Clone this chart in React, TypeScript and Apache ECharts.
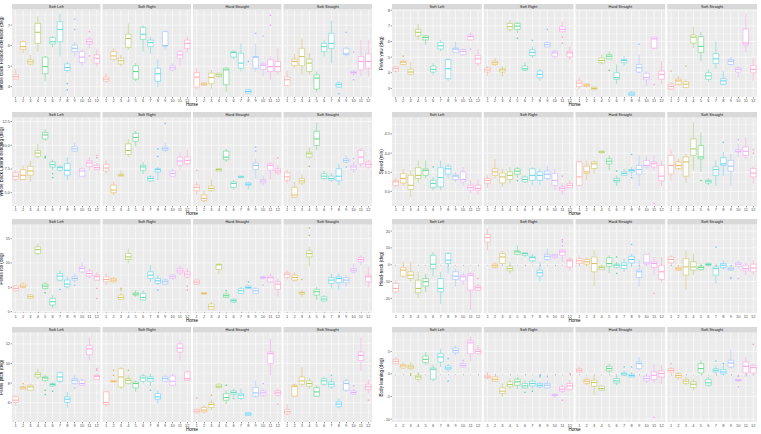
import React, { useEffect, useRef } from 'react';
import * as echarts from 'echarts';

// ---------- categories ----------
const horses = ['1', '2', '3', '4', '5', '6', '7', '8', '9', '10', '11', '12'];
const facets = ['Soft Left', 'Soft Right', 'Hard Straight', 'Soft Straight'];
const horseColors = ['#F8766D', '#DE8C00', '#B79F00', '#7CAE00', '#00BA38', '#00C08B', '#00BFC4', '#00B4F0', '#619CFF', '#C77CFF', '#F564E3', '#FF64B0'];

// ---------- y axis titles & ticks ----------
const yTitles = [
  'Whole Back Flexion-extension (deg)', 'Pelvis yaw (deg)',
  'Whole Back Lateral bending (deg)', 'Speed (m/s)',
  'Pelvis roll (deg)', 'Head-neck (deg)',
  'Pelvis pitch (deg)', 'Body leaning (deg)',
];
const yTicks = [
  [4, 5, 6, 7], [3, 4, 5, 6, 7, 8],
  [5, 7.5, 10, 12.5], [3, 3.5, 4, 4.5],
  [0, 5, 10, 15], [-20, -10, 0, 10, 20],
  [6, 8, 10, 12], [-10, -5, 0, 5],
];
const yTickDecimals = [0, 0, 1, 1, 0, 0, 0, 0];
const yRanges = [
  [3.5, 7.76], [2.45, 8.05],
  [3.6, 12.92], [2.62, 4.93],
  [-0.28, 17.9], [-28.7, 23.9],
  [4.05, 13.15], [-10.66, 9.19],
];

// ---------- box values per facet: [lower whisker, Q1, median, Q3, upper whisker] for horses 1..12 ----------
const flexionBoxes = [
  [[4.34,4.37,4.48,4.58,4.87],[5.63,5.82,5.95,6.19,6.27],[5.02,5.11,5.21,5.31,5.55],[5.71,6.11,6.65,7.08,7.44],[4.26,4.63,4.98,5.44,5.5],[5.92,6.08,6.19,6.4,6.47],[5.47,6.19,6.79,7.16,7.56],[4.69,4.79,4.94,5.11,5.23],[5.47,5.71,5.87,6.03,6.19],[4.98,5.18,5.44,5.71,5.82],[5.87,6.08,6.19,6.31,6.44],[4.98,5.15,5.39,5.55,5.82]],
  [[4.18,4.27,4.37,4.47,4.66],[5.27,5.34,5.5,5.71,5.87],[4.98,5.11,5.26,5.39,5.55],[5.79,5.92,6.35,6.56,7.08],[4.26,4.37,4.74,5.02,5.15],[5.71,6.31,6.56,6.89,7.0],[5.6,5.95,6.15,6.27,6.44],[3.98,4.26,4.63,4.9,5.34],[5.79,5.98,6.0,6.68,6.76],[4.74,4.82,4.92,5.02,5.15],[4.98,5.39,5.55,5.71,5.82],[5.66,5.87,6.11,6.27,6.47]],
  [[3.85,3.98,4.47,4.69,4.9],[4.05,4.08,4.13,4.18,4.23],[3.89,4.15,4.45,4.66,4.82],[4.42,4.5,4.58,4.66,4.66],[3.73,4.1,4.82,4.9,4.98],[5.34,5.44,5.66,5.71,5.79],[4.74,4.9,5.15,5.63,6.11],[3.65,3.69,3.77,3.85,3.89],[4.74,4.9,5.44,5.47,6.11],[4.5,4.85,5.05,5.11,5.23],[4.34,4.74,4.98,5.31,5.47],[4.58,4.74,4.98,5.23,5.87]],
  [[4.02,4.05,4.34,4.47,4.79],[4.9,5.02,5.23,5.34,5.6],[4.58,5.02,5.47,5.87,6.35],[4.58,4.74,5.15,5.34,5.63],[3.73,3.89,4.42,4.58,4.74],[5.47,5.71,5.95,6.11,6.27],[5.15,5.87,6.11,6.6,7.21],[3.94,3.98,4.1,4.18,4.26],[5.47,5.55,5.6,5.87,5.95],[4.5,4.63,4.69,4.74,4.82],[4.5,4.82,5.23,5.47,6.27],[4.5,4.9,5.23,5.6,6.27]],
];
const flexionOutliers = [
  [[8,4.15],[8,3.85],[9,7.29],[9,6.79],[11,6.68],[11,5.5]],
  [],
  [[8,5.23],[9,6.6],[10,6.47],[11,7.48],[11,7.0]],
  [[8,3.66],[9,6.65],[10,5.68],[10,4.34]],
];

const yawBoxes = [
  [[4.0,4.11,4.26,4.37,4.43],[4.43,4.53,4.68,4.74,4.85],[3.84,3.9,4.05,4.22,4.7],[6.11,6.36,6.59,6.78,7.12],[5.8,6.11,6.26,6.36,6.42],[3.84,4.05,4.22,4.43,4.64],[5.37,5.52,5.73,5.94,6.11],[3.48,3.63,4.26,4.85,4.95],[5.31,5.31,5.52,5.58,6.0],[5.1,5.16,5.37,5.48,5.58],[6.07,6.11,6.32,6.42,6.57],[4.43,4.6,4.89,5.1,5.52]],
  [[3.8,4.05,4.18,4.32,4.43],[4.43,4.53,4.64,4.74,4.95],[3.76,4.05,4.18,4.26,4.43],[6.63,6.78,6.95,7.16,7.37],[6.53,6.78,6.99,7.16,7.26],[4.11,4.18,4.26,4.43,4.68],[4.95,5.1,5.31,5.48,5.69],[3.48,3.69,3.9,4.11,4.26],[5.65,5.65,5.79,5.94,6.0],[4.9,5.06,5.27,5.37,5.48],[6.53,6.63,6.78,6.95,7.26],[4.85,5.02,5.27,5.37,5.69]],
  [[2.96,3.13,3.34,3.48,3.69],[3.06,3.13,3.21,3.27,3.34],[2.85,2.92,3.0,3.08,3.13],[4.53,4.64,4.79,4.95,5.16],[4.85,4.89,5.06,5.16,5.37],[3.27,3.59,3.69,4.0,4.53],[4.43,4.64,4.79,4.85,5.06],[2.5,2.54,2.64,2.75,2.85],[3.97,4.05,4.32,4.53,5.16],[3.13,3.55,3.69,3.97,4.11],[5.48,5.58,6.17,6.28,6.32],[3.27,3.59,3.9,4.11,4.74]],
  [[2.92,2.96,3.13,3.27,3.38],[3.17,3.27,3.48,3.59,3.8],[3.0,3.06,3.27,3.42,3.59],[5.58,5.9,6.28,6.42,6.95],[4.74,5.31,5.69,6.32,6.63],[3.42,3.59,3.8,4.0,4.22],[4.26,4.6,4.89,5.23,6.0],[3.21,3.27,3.48,3.63,4.11],[4.43,4.53,4.74,4.85,5.02],[3.69,4.05,4.22,4.32,4.43],[5.31,5.79,5.9,6.8,7.79],[3.48,4.0,4.22,4.47,4.95]],
];
const yawOutliers = [
  [[2,5.06],[11,5.52]],
  [[5,6.21],[7,6.07],[9,6.78],[11,6.28],[11,5.9]],
  [[5,4.16],[9,5.84],[11,3.25]],
  [[1,4.11],[3,4.43]],
];

const lateralBoxes = [
  [[6.15,6.39,6.74,7.09,7.36],[6.32,6.39,6.84,7.43,7.88],[6.15,6.84,7.29,7.78,8.34],[8.58,8.82,9.17,9.45,10.14],[10.49,10.66,11.08,11.35,11.7],[7.36,7.71,7.95,8.23,8.48],[7.19,7.36,7.64,7.78,7.88],[6.32,6.84,7.36,8.06,8.75],[9.27,9.38,9.62,9.86,10.31],[6.67,6.74,7.29,7.53,7.71],[7.36,7.78,8.13,8.34,8.75],[7.36,7.43,7.64,7.88,8.13]],
  [[7.01,7.29,7.6,7.99,8.41],[4.76,5.0,5.28,5.8,6.15],[6.74,6.74,6.84,6.94,7.36],[8.75,9.03,9.45,10.14,10.66],[9.86,10.42,10.83,11.25,11.53],[6.95,7.36,7.71,7.88,8.23],[6.15,6.25,6.5,6.67,6.84],[6.32,7.19,7.43,7.53,7.71],[9.27,9.45,9.62,9.79,10.31],[6.67,6.74,7.01,7.29,7.53],[7.36,7.88,8.34,8.75,9.27],[7.78,8.06,8.41,8.75,9.52]],
  [[4.76,5.21,5.56,5.8,6.15],[3.96,4.17,4.41,4.76,5.28],[5.11,5.21,5.45,5.7,6.39],[7.29,7.29,7.43,7.53,7.53],[8.23,8.47,8.75,9.38,9.62],[5.35,5.56,5.97,6.15,6.32],[6.5,6.6,6.67,6.74,6.8],[5.35,5.8,5.9,6.04,6.15],[6.5,7.43,7.88,8.13,8.58],[5.7,6.04,6.22,6.39,6.84],[6.39,7.36,7.88,8.06,8.23],[6.84,7.09,7.29,7.53,7.88]],
  [[5.97,6.32,6.67,7.09,7.43],[4.41,4.52,4.76,5.56,6.15],[5.8,6.04,6.25,6.5,6.94],[8.47,8.75,9.1,9.27,9.79],[9.45,9.97,10.66,11.46,12.4],[6.32,6.5,6.74,7.01,7.29],[6.15,6.32,6.5,6.74,7.09],[5.8,6.25,6.74,7.53,8.06],[8.06,8.23,8.41,8.58,8.93],[7.09,7.43,7.71,7.88,8.23],[7.64,8.06,8.75,9.45,9.72],[7.53,7.71,7.99,8.23,8.47]],
];
const lateralOutliers = [
  [[5,8.82],[5,8.68],[6,7.01],[6,6.6],[12,8.93],[12,8.68]],
  [[8,9.62],[8,8.82],[9,12.29]],
  [[1,7.36],[9,9.79],[9,9.38],[12,8.68]],
  [[4,7.78],[9,7.71],[10,8.58]],
];

const speedBoxes = [
  [[3.1,3.16,3.25,3.29,3.36],[3.14,3.22,3.34,3.47,3.59],[2.86,3.05,3.16,3.42,3.55],[3.22,3.34,3.42,3.62,3.81],[3.34,3.42,3.55,3.59,3.81],[3.03,3.1,3.21,3.29,3.38],[3.03,3.12,3.36,3.62,3.81],[3.34,3.45,3.59,3.66,3.72],[3.25,3.31,3.4,3.42,3.51],[3.14,3.25,3.31,3.51,3.64],[2.95,3.03,3.1,3.16,3.29],[2.91,3.03,3.08,3.16,3.31]],
  [[3.1,3.21,3.29,3.34,3.42],[3.34,3.42,3.51,3.59,3.85],[3.12,3.22,3.38,3.48,3.59],[3.21,3.31,3.42,3.51,3.64],[3.36,3.45,3.53,3.59,3.64],[3.22,3.25,3.31,3.38,3.42],[3.16,3.29,3.42,3.59,3.64],[3.16,3.29,3.42,3.51,3.59],[3.29,3.34,3.45,3.53,3.66],[3.03,3.16,3.29,3.47,3.59],[2.91,3.02,3.08,3.12,3.21],[3.08,3.1,3.16,3.21,3.29]],
  [[3.16,3.16,3.38,3.77,3.81],[3.29,3.47,3.51,3.66,3.81],[3.45,3.6,3.72,3.77,3.81],[4.0,4.01,4.03,4.05,4.07],[3.55,3.72,3.79,3.85,3.94],[3.14,3.25,3.29,3.34,3.42],[3.4,3.42,3.47,3.51,3.59],[3.4,3.51,3.55,3.57,3.64],[3.14,3.45,3.57,3.68,3.94],[3.59,3.64,3.68,3.81,3.94],[3.55,3.64,3.72,3.77,3.94],[3.14,3.28,3.4,3.68,3.81]],
  [[3.28,3.45,3.68,3.94,4.09],[3.55,3.6,3.68,3.77,3.85],[3.22,3.4,3.77,3.9,3.98],[3.55,3.94,4.11,4.37,4.8],[3.51,3.85,3.9,4.2,4.54],[3.16,3.22,3.27,3.29,3.34],[3.14,3.42,3.57,3.64,3.81],[3.4,3.68,3.72,3.88,4.03],[3.14,3.53,3.66,3.81,3.98],[3.9,4.03,4.05,4.09,4.24],[3.85,3.94,4.05,4.16,4.41],[3.21,3.38,3.48,3.6,3.66]],
];
const speedOutliers = [
  [[6,3.64]],
  [[5,3.28],[11,3.4]],
  [[6,3.53],[8,3.97],[8,3.36],[11,2.69]],
  [[5,3.28],[8,4.28],[10,4.35],[12,4.09],[12,4.0]],
];

const rollBoxes = [
  [[4.09,4.29,4.77,5.25,5.45],[4.77,4.97,5.25,5.66,6.13],[2.52,2.72,3.07,3.41,3.61],[11.59,11.93,12.75,13.3,13.98],[4.43,4.77,5.25,5.66,6.13],[0.68,1.36,2.04,2.72,3.41],[6.13,6.48,7.29,7.84,8.52],[4.77,5.11,5.66,6.48,7.29],[5.93,6.48,6.82,7.16,7.84],[7.84,8.18,8.86,9.2,10.23],[6.82,7.29,7.84,8.32,8.86],[6.34,6.48,7.16,7.5,8.18]],
  [[5.45,6.13,6.61,7.16,7.84],[5.93,6.13,6.48,6.82,7.16],[2.38,2.52,2.93,3.41,3.9],[9.88,10.7,11.25,11.93,12.95],[3.07,3.41,3.61,3.88,4.43],[2.25,2.38,2.93,3.75,4.43],[6.13,6.82,7.5,8.18,9.54],[5.45,5.8,6.34,6.82,7.5],[5.45,5.66,6.13,6.48,6.82],[6.48,6.82,7.16,7.5,7.7],[7.5,7.98,8.38,8.86,9.54],[6.82,7.16,7.7,8.18,8.86]],
  [[5.45,5.66,6.07,6.48,6.61],[3.48,3.61,3.75,3.88,4.02],[0.34,0.48,1.02,1.57,2.04],[7.7,8.66,9.61,9.75,9.88],[2.72,2.93,3.27,3.61,3.88],[1.84,1.98,2.25,2.52,2.72],[3.61,3.75,4.29,4.77,5.11],[4.57,4.77,4.97,5.25,5.45],[3.61,3.75,4.29,4.77,4.97],[6.48,6.82,7.02,7.16,7.5],[5.8,6.13,6.95,7.29,7.84],[3.07,4.57,5.66,6.13,6.82]],
  [[6.61,7.02,7.7,7.98,8.52],[6.13,6.48,7.02,7.5,8.18],[2.93,3.61,3.88,4.02,4.43],[9.34,11.25,11.93,12.48,13.3],[2.38,3.41,4.09,4.57,5.11],[2.04,2.18,2.59,3.07,3.41],[4.77,5.8,6.48,7.02,7.84],[4.43,5.93,6.82,7.16,7.84],[5.11,5.93,6.48,6.95,7.5],[7.84,8.18,8.52,8.86,9.88],[9.54,10.23,10.7,11.11,11.59],[4.97,6.13,7.16,7.5,9.2]],
];
const rollOutliers = [
  [[5,3.88],[7,4.57],[9,5.45],[12,4.77],[12,2.72]],
  [[3,4.77],[3,4.43],[8,4.43],[12,5.25],[12,4.43]],
  [[5,4.29],[8,6.13],[10,5.45]],
  [[3,6.61],[4,17.2],[4,15.68]],
];

const headNeckBoxes = [
  [[-17.0,-16.1,-14.1,-11.1,-9.2],[-7.6,-6.8,-3.2,-1.7,1.7],[-10.1,-8.2,-6.2,-4.2,1.7],[-20.0,-16.7,-14.1,-9.2,-4.2],[-16.1,-12.7,-10.1,-8.2,-5.2],[-7.2,-2.3,0.3,5.6,7.6],[-23.3,-16.1,-14.1,-8.2,-4.2],[-5.2,0.7,2.7,6.6,7.6],[-13.1,-8.8,-6.8,-4.2,-2.3],[-12.1,-9.6,-7.2,-6.2,-4.2],[-26.9,-15.1,-6.2,-5.2,-4.2],[-15.5,-15.1,-13.7,-12.7,-11.5]],
  [[8.6,13.5,16.1,18.0,21.4],[-2.3,-1.7,-0.7,0.3,1.7],[-0.3,0.7,4.6,6.6,8.2],[-5.6,-3.6,-2.3,-0.9,1.7],[5.6,6.2,7.6,8.2,11.5],[4.6,5.6,6.6,7.0,7.6],[1.1,2.3,4.2,5.0,6.6],[-10.1,-6.8,-4.8,-3.2,1.7],[2.3,3.1,5.0,6.2,9.6],[3.1,4.2,5.2,6.0,6.6],[1.7,5.6,7.6,8.6,9.6],[-3.6,-1.3,2.3,3.1,4.6]],
  [[-0.3,0.7,2.3,3.6,5.6],[-0.9,0.3,1.7,3.1,4.6],[-12.7,-4.2,0.7,4.6,8.6],[-3.2,-2.9,-1.7,-0.9,-0.3],[-5.2,-0.9,0.7,4.2,5.6],[-2.3,-1.5,-0.3,0.3,1.7],[-4.2,-2.3,-0.3,1.1,3.6],[-1.5,1.1,3.1,5.0,6.6],[-13.1,-7.6,-4.2,-3.2,3.1],[-0.3,0.3,1.1,6.2,6.6],[-6.2,-1.7,0.7,1.7,4.6],[-10.7,-8.8,-4.2,-0.3,4.6]],
  [[-0.3,1.1,3.1,4.6,5.6],[-3.6,-3.2,-2.5,-1.7,-0.3],[-15.1,-6.2,-1.3,3.6,8.6],[-6.2,-3.2,-1.3,1.7,6.6],[-3.6,-2.9,-1.7,-0.9,0.7],[-0.9,-0.5,0.1,0.7,1.5],[-11.1,-6.2,-2.3,-1.3,0.7],[-2.9,-1.7,-0.3,0.7,2.7],[-3.6,-3.2,-2.5,-1.7,-0.3],[-2.3,-0.9,0.3,1.1,2.7],[-6.2,-3.6,-2.3,-0.3,1.1],[-6.2,-4.2,-1.9,0.3,2.7]],
];
const headNeckOutliers = [
  [[12,-8.2]],
  [[11,14.9],[11,13.5],[11,11.2]],
  [[6,4.6],[6,-5.2],[8,12.1],[11,-17.0]],
  [[7,10.5],[9,-7.6],[9,-8.2],[10,-8.2]],
];

const pitchBoxes = [
  [[5.7,6.04,6.27,6.61,6.78],[7.38,7.38,7.52,7.62,7.79],[7.18,7.28,7.62,7.79,7.96],[8.39,8.63,8.87,9.07,9.47],[8.12,8.29,8.53,8.63,8.87],[7.62,7.72,7.86,7.96,8.12],[7.96,8.19,8.63,9.07,9.2],[5.5,6.04,6.37,6.61,7.11],[7.79,7.96,8.29,8.46,8.87],[7.72,7.79,7.96,8.29,8.46],[10.31,10.89,11.49,11.83,12.67],[8.39,8.39,8.7,8.8,8.97]],
  [[5.6,5.83,6.04,7.11,7.18],[8.12,8.12,8.19,8.29,8.29],[7.38,7.62,8.63,9.47,9.64],[7.86,7.96,8.29,8.46,8.8],[7.11,7.52,7.96,8.12,8.29],[7.96,8.19,8.53,8.73,8.97],[7.72,8.19,8.46,8.63,8.97],[5.93,6.37,6.61,6.94,7.28],[8.12,8.19,8.46,8.63,8.87],[7.72,7.79,8.19,8.73,8.97],[10.31,11.16,11.56,12.0,12.34],[8.19,8.29,8.46,9.13,9.3]],
  [[4.92,4.99,5.16,5.33,5.43],[4.92,5.09,5.26,5.53,5.77],[5.26,5.53,5.83,6.0,6.34],[7.45,7.55,7.69,7.89,7.96],[5.87,6.27,6.54,6.94,7.28],[6.61,6.88,7.05,7.21,7.45],[6.27,6.44,6.78,6.94,7.45],[4.65,4.72,4.86,4.99,5.09],[6.54,6.68,7.01,7.55,8.29],[6.61,6.78,7.01,7.21,7.45],[8.8,9.98,10.99,11.16,12.51],[6.61,6.78,7.01,7.21,7.45]],
  [[4.75,4.86,5.09,5.33,5.87],[6.61,6.68,7.69,7.79,7.96],[7.62,7.89,8.23,8.63,9.64],[7.45,7.69,7.96,8.23,8.56],[6.61,6.68,7.11,7.55,7.79],[7.69,7.89,8.23,8.46,8.63],[7.45,7.62,7.89,8.12,8.46],[5.43,5.6,5.87,6.1,6.44],[7.11,7.28,7.96,8.23,8.46],[6.78,6.88,7.05,7.21,7.45],[9.24,10.31,10.82,11.16,12.67],[6.94,7.35,7.62,7.89,8.36]],
];
const pitchOutliers = [
  [[2,7.96],[5,7.28],[5,6.84],[6,7.18],[9,7.52],[12,9.47],[12,9.3]],
  [[2,9.3],[2,8.8],[4,9.3],[7,7.28]],
  [[1,6.51],[3,6.78],[5,7.79],[6,6.44],[10,7.96],[12,5.87]],
  [[7,8.8],[10,7.72],[12,6.27]],
];

const leaningBoxes = [
  [[2.06,2.28,2.79,3.24,3.75],[1.03,1.33,1.77,2.06,2.65],[0.81,1.18,1.55,1.91,2.65],[-1.76,-1.17,-0.66,-0.29,0.44],[2.06,2.5,3.24,3.97,4.85],[-1.62,-1.17,1.03,1.33,2.06],[1.55,2.65,3.75,4.49,5.59],[0.44,1.03,1.33,1.77,2.28],[4.12,4.71,5.22,5.74,6.32],[1.33,1.55,1.91,2.28,2.79],[2.79,4.49,6.91,7.43,8.38],[4.27,4.49,5.0,5.44,6.32]],
  [[-1.17,-0.88,-0.66,-0.29,0.44],[-1.76,-1.62,-1.17,-0.66,-0.29],[-5.07,-4.34,-3.82,-3.09,-2.13],[-3.38,-2.86,-2.35,-1.76,-1.03],[-3.38,-2.5,-1.76,-1.17,-0.66],[-3.24,-3.09,-2.65,-2.13,-1.4],[-3.38,-2.65,-2.13,-1.62,-1.03],[-3.24,-2.86,-2.5,-2.13,-1.76],[-3.24,-3.09,-2.5,-2.13,-1.4],[-5.29,-4.85,-4.71,-4.56,-4.34],[-4.34,-3.82,-3.38,-2.86,-2.35],[-3.82,-3.38,-2.65,-2.13,-1.4]],
  [[0.44,0.44,0.81,1.18,1.69],[-2.5,-2.13,-1.62,-1.25,-0.66],[-4.71,-2.72,-1.91,-1.4,-0.29],[-3.75,-3.6,-3.24,-2.72,-2.5],[0.22,0.66,1.18,1.69,2.28],[-2.5,-1.98,-1.54,-1.03,-0.29],[-0.51,-0.29,0.0,0.22,0.81],[-0.81,-0.66,-0.37,-0.07,0.44],[0.81,1.18,2.28,2.65,3.75],[-1.98,-1.54,-1.03,-0.51,0.08],[-2.13,-1.25,-0.29,0.44,2.28],[-2.13,-0.66,0.08,0.66,1.91]],
  [[0.08,0.44,0.81,1.18,1.55],[-1.25,-0.81,-0.37,0.08,0.44],[-2.5,-2.13,-1.62,-1.25,-0.66],[-3.6,-3.01,-2.28,-1.76,-1.03],[0.08,0.22,1.18,2.28,3.02],[-2.86,-2.5,-1.98,-1.25,-0.66],[0.0,0.44,0.81,1.18,1.91],[-0.29,0.0,0.44,0.96,1.91],[1.18,1.55,2.43,3.02,5.37],[-1.76,-1.54,-1.4,-1.25,-1.03],[-0.66,0.22,1.69,2.65,3.75],[-0.29,0.22,1.4,1.91,2.28]],
];
const leaningOutliers = [
  [[3,0.08],[3,-0.29],[8,3.38],[8,-1.62],[10,3.02]],
  [[6,-4.11],[7,-3.82],[8,-0.29],[8,-0.66],[9,-0.66],[11,-5.81],[12,0.08]],
  [[7,1.55],[8,1.55],[11,-9.63]],
  [[1,2.28],[7,2.87],[8,2.28],[10,-0.51],[10,-2.86],[12,6.54]],
];

const panelBoxes = [flexionBoxes, yawBoxes, lateralBoxes, speedBoxes, rollBoxes, headNeckBoxes, pitchBoxes, leaningBoxes];
const panelOutliers = [flexionOutliers, yawOutliers, lateralOutliers, speedOutliers, rollOutliers, headNeckOutliers, pitchOutliers, leaningOutliers];

// ---------- layout / style ----------
const FONT = '"Liberation Sans", Arial, Helvetica, sans-serif';
const COL_LEFT = [12, 392];
const COL_RIGHT = [372, 757];
const GAP = 2;
const ROW_TOP = [9.5, 117.5, 224.5, 332.5];
const ROW_H = [87.5, 88.5, 88.5, 89.5];
const STRIP_H = 5.5;
const LINE_W = 0.6;
const PALE = 0.4; // blend of the hue palette toward white, as the thin lines look in the reference

function lighten(hex: string, t: number) {
  const n = parseInt(hex.slice(1), 16);
  const r = (n >> 16) & 255, g = (n >> 8) & 255, b = n & 255;
  const f = (c: number) => Math.round(c + (255 - c) * t);
  return `rgb(${f(r)},${f(g)},${f(b)})`;
}
const lineColors = horseColors.map((c) => lighten(c, PALE));
const pointColors = horseColors.map((c) => lighten(c, PALE * 0.6));

function txt(text: string, x: number, y: number, size: number, fill: string, align: string, valign: string) {
  return {
    type: 'text',
    silent: true,
    style: {
      text, x, y, fill, textFill: fill, fontSize: size, fontFamily: FONT,
      align, textAlign: align, verticalAlign: valign, textVerticalAlign: valign,
    },
  };
}

function buildOption() {
  const grid: any[] = [];
  const xAxis: any[] = [];
  const yAxis: any[] = [];
  const series: any[] = [];
  const graphic: any[] = [];

  panelBoxes.forEach((boxes, pi) => {
    const row = Math.floor(pi / 2);
    const col = pi % 2;
    const fw = (COL_RIGHT[col] - COL_LEFT[col] - 3 * GAP) / 4;
    const top = ROW_TOP[row];
    const h = ROW_H[row];
    const ticks = yTicks[pi];
    const step = ticks[1] - ticks[0];
    const [ymin, ymax] = yRanges[pi];
    const minor: number[] = [];
    for (let i = 0; i < ticks.length - 1; i++) minor.push((ticks[i] + ticks[i + 1]) / 2);
    if (ticks[0] - step / 2 > ymin) minor.push(ticks[0] - step / 2);
    if (ticks[ticks.length - 1] + step / 2 < ymax) minor.push(ticks[ticks.length - 1] + step / 2);

    graphic.push({
      type: 'text', x: (COL_LEFT[col] + COL_RIGHT[col]) / 2, y: top + h + 7.3, silent: true,
      style: { text: 'Horse', fill: '#000', textFill: '#000', fontSize: 4.6, fontFamily: FONT, align: 'center', textAlign: 'center', verticalAlign: 'middle', textVerticalAlign: 'middle' },
    });

    facets.forEach((facet, fi) => {
      const gi = grid.length;
      const left = COL_LEFT[col] + fi * (fw + GAP);
      grid.push({ left, top, width: fw, height: h, show: true, backgroundColor: '#EBEBEB', borderWidth: 0, containLabel: false, outerBoundsMode: 'none' });
      xAxis.push({
        type: 'category', gridIndex: gi, data: horses, boundaryGap: true,
        axisLine: { show: false },
        axisTick: { show: true, alignWithLabel: true, length: 1.4, lineStyle: { color: '#333', width: 0.5 } },
        axisLabel: { show: true, interval: 0, fontSize: 4, color: '#4D4D4D', margin: 1.6, fontFamily: FONT },
        splitLine: { show: false },
      });
      yAxis.push({
        type: 'value', gridIndex: gi, min: ymin, max: ymax, scale: true,
        axisLine: { show: false }, axisTick: { show: false }, axisLabel: { show: false }, splitLine: { show: false },
        name: fi === 0 ? yTitles[pi] : '', nameLocation: 'middle', nameGap: 8.4, nameRotate: 90,
        nameTextStyle: { fontSize: 4.6, color: '#000', fontFamily: FONT },
      });

      // panel decoration: grid lines, strip, y tick labels
      series.push({
        type: 'custom', coordinateSystem: 'cartesian2d', xAxisIndex: gi, yAxisIndex: gi,
        data: [[0, ymin]], encode: { x: 0, y: 1 }, z: 1, silent: true, clip: false,
        renderItem: (params: any, api: any) => {
          const cs = params.coordSys;
          const x0 = cs.x, x1 = cs.x + cs.width, y0 = cs.y, y1 = cs.y + cs.height;
          const ch: any[] = [];
          minor.forEach((v) => {
            const y = api.coord([0, v])[1];
            ch.push({ type: 'line', silent: true, shape: { x1: x0, y1: y, x2: x1, y2: y }, style: { stroke: '#FFFFFF', lineWidth: 0.3 } });
          });
          ticks.forEach((v) => {
            const y = api.coord([0, v])[1];
            ch.push({ type: 'line', silent: true, shape: { x1: x0, y1: y, x2: x1, y2: y }, style: { stroke: '#FFFFFF', lineWidth: 0.6 } });
          });
          horses.forEach((_, i) => {
            const x = api.coord([i, ymin])[0];
            ch.push({ type: 'line', silent: true, shape: { x1: x, y1: y0, x2: x, y2: y1 }, style: { stroke: '#FFFFFF', lineWidth: 0.6 } });
          });
          ch.push({ type: 'rect', silent: true, shape: { x: x0, y: y0 - STRIP_H, width: cs.width, height: STRIP_H }, style: { fill: '#D9D9D9' } });
          ch.push(txt(facet, (x0 + x1) / 2, y0 - STRIP_H / 2, 4, '#1A1A1A', 'center', 'middle'));
          if (fi === 0) {
            ticks.forEach((v) => {
              const y = api.coord([0, v])[1];
              ch.push({ type: 'line', silent: true, shape: { x1: x0 - 1.4, y1: y, x2: x0, y2: y }, style: { stroke: '#333', lineWidth: 0.5 } });
              ch.push(txt(v.toFixed(yTickDecimals[pi]), x0 - 1.9, y, 4, '#4D4D4D', 'right', 'middle'));
            });
          }
          return { type: 'group', children: ch };
        },
      });

      // boxes
      series.push({
        type: 'custom', coordinateSystem: 'cartesian2d', xAxisIndex: gi, yAxisIndex: gi,
        data: boxes[fi].map((b, i) => [i, ...b]), encode: { x: 0, y: [1, 2, 3, 4, 5] }, z: 3, silent: true, clip: false,
        renderItem: (params: any, api: any) => {
          const xi = api.value(0);
          const c = lineColors[xi];
          const lo = api.coord([xi, api.value(1)]);
          const q1 = api.coord([xi, api.value(2)]);
          const md = api.coord([xi, api.value(3)]);
          const q3 = api.coord([xi, api.value(4)]);
          const hi = api.coord([xi, api.value(5)]);
          const band = api.size([1, 0])[0];
          const w = band * 0.75 * 12 / 12.2;
          const cx = md[0];
          return {
            type: 'group',
            children: [
              { type: 'line', shape: { x1: cx, y1: lo[1], x2: cx, y2: q1[1] }, style: { stroke: c, lineWidth: LINE_W } },
              { type: 'line', shape: { x1: cx, y1: q3[1], x2: cx, y2: hi[1] }, style: { stroke: c, lineWidth: LINE_W } },
              { type: 'rect', shape: { x: cx - w / 2, y: q3[1], width: w, height: Math.max(q1[1] - q3[1], 0.3) }, style: { fill: '#FFFFFF', stroke: c, lineWidth: LINE_W } },
              { type: 'line', shape: { x1: cx - w / 2, y1: md[1], x2: cx + w / 2, y2: md[1] }, style: { stroke: c, lineWidth: LINE_W * 1.8 } },
            ],
          };
        },
      });

      // outliers
      series.push({
        type: 'scatter', xAxisIndex: gi, yAxisIndex: gi, z: 4, silent: true,
        symbol: 'circle', symbolSize: 1.5,
        data: panelOutliers[pi][fi].map(([hh, v]) => [hh - 1, v]),
        itemStyle: { color: (p: any) => pointColors[p.value[0]] },
      });
    });
  });

  return {
    animation: false,
    backgroundColor: '#FFFFFF',
    grid, xAxis, yAxis, series, graphic,
  };
}

export default function App() {
  const ref = useRef<HTMLDivElement>(null);
  useEffect(() => {
    if (!ref.current) return;
    const chart = echarts.init(ref.current, null, { renderer: 'svg' });
    chart.setOption(buildOption() as any);
    return () => chart.dispose();
  }, []);
  return <div ref={ref} style={{ position: 'fixed', left: 0, top: 0, width: 761, height: 434, background: '#fff' }} />;
}
